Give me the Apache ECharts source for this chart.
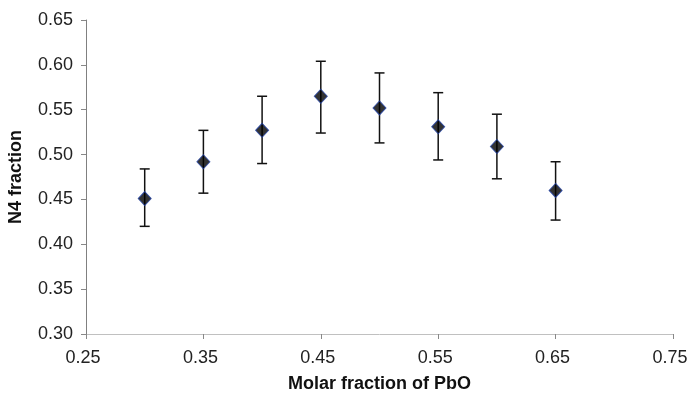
<!DOCTYPE html>
<html>
<head>
<meta charset="utf-8">
<script src="https://cdn.jsdelivr.net/npm/echarts@6/dist/echarts.min.js"></script>
<style>html,body{margin:0;padding:0;background:#fff}#c{width:688px;height:393px}</style>
</head>
<body>
<div id="c"></div>
<script>
const xValues = [0.30, 0.35, 0.40, 0.45, 0.50, 0.55, 0.60, 0.65];
const n4Values = [0.451, 0.492, 0.527, 0.565, 0.552, 0.531, 0.509, 0.460];
const upperValues = [0.484, 0.527, 0.565, 0.604, 0.591, 0.569, 0.545, 0.492];
const lowerValues = [0.420, 0.457, 0.490, 0.524, 0.513, 0.494, 0.473, 0.427];

const font = 'Liberation Sans, Arial, sans-serif';
const chart = echarts.init(document.getElementById('c'));
const points = xValues.map((x, i) => [x, n4Values[i]]);
const bars = xValues.map((x, i) => [x, lowerValues[i], upperValues[i]]);

chart.setOption({
  animation: false,
  grid: {left: 86, right: 15, top: 20, bottom: 59, containLabel: false, outerBoundsMode: 'none'},
  xAxis: {
    type: 'value', min: 0.25, max: 0.75, interval: 0.1,
    name: 'Molar fraction of PbO', nameLocation: 'middle', nameGap: 41,
    nameTextStyle: {fontFamily: font, fontWeight: 'bold', fontSize: 18, color: '#111'},
    axisLine: {show: true, lineStyle: {color: '#c0c0c0', width: 1}},
    axisTick: {show: true, inside: false, length: 5, lineStyle: {color: '#888'}},
    axisLabel: {fontFamily: font, fontSize: 18, color: '#222', margin: 15, padding: [0, 6, 0, 0], formatter: v => v.toFixed(2)},
    splitLine: {show: false}
  },
  yAxis: {
    type: 'value', min: 0.30, max: 0.65, interval: 0.05,
    name: 'N4 fraction', nameLocation: 'middle', nameGap: 61,
    nameTextStyle: {fontFamily: font, fontWeight: 'bold', fontSize: 18, color: '#111'},
    axisLine: {show: true, lineStyle: {color: '#808080', width: 1}},
    axisTick: {show: true, inside: false, length: 5, lineStyle: {color: '#888'}},
    axisLabel: {fontFamily: font, fontSize: 18, color: '#222', margin: 13, formatter: v => v.toFixed(2)},
    splitLine: {show: false}
  },
  series: [
    {
      type: 'custom',
      data: bars,
      z: 2,
      renderItem: function (params, api) {
        const x = api.value(0);
        const lo = api.coord([x, api.value(1)]);
        const hi = api.coord([x, api.value(2)]);
        const hw = 5;
        const style = {stroke: '#111', lineWidth: 1.5};
        return {
          type: 'group',
          children: [
            {type: 'line', shape: {x1: lo[0], y1: lo[1], x2: hi[0], y2: hi[1]}, style: style},
            {type: 'line', shape: {x1: hi[0] - hw, y1: hi[1], x2: hi[0] + hw, y2: hi[1]}, style: style},
            {type: 'line', shape: {x1: lo[0] - hw, y1: lo[1], x2: lo[0] + hw, y2: lo[1]}, style: style}
          ]
        };
      }
    },
    {
      type: 'scatter',
      data: points,
      z: 3,
      symbol: 'diamond',
      symbolSize: [13, 14],
      itemStyle: {color: '#000', borderColor: '#1f3fa0', borderWidth: 1}
    }
  ]
});
</script>
</body>
</html>
